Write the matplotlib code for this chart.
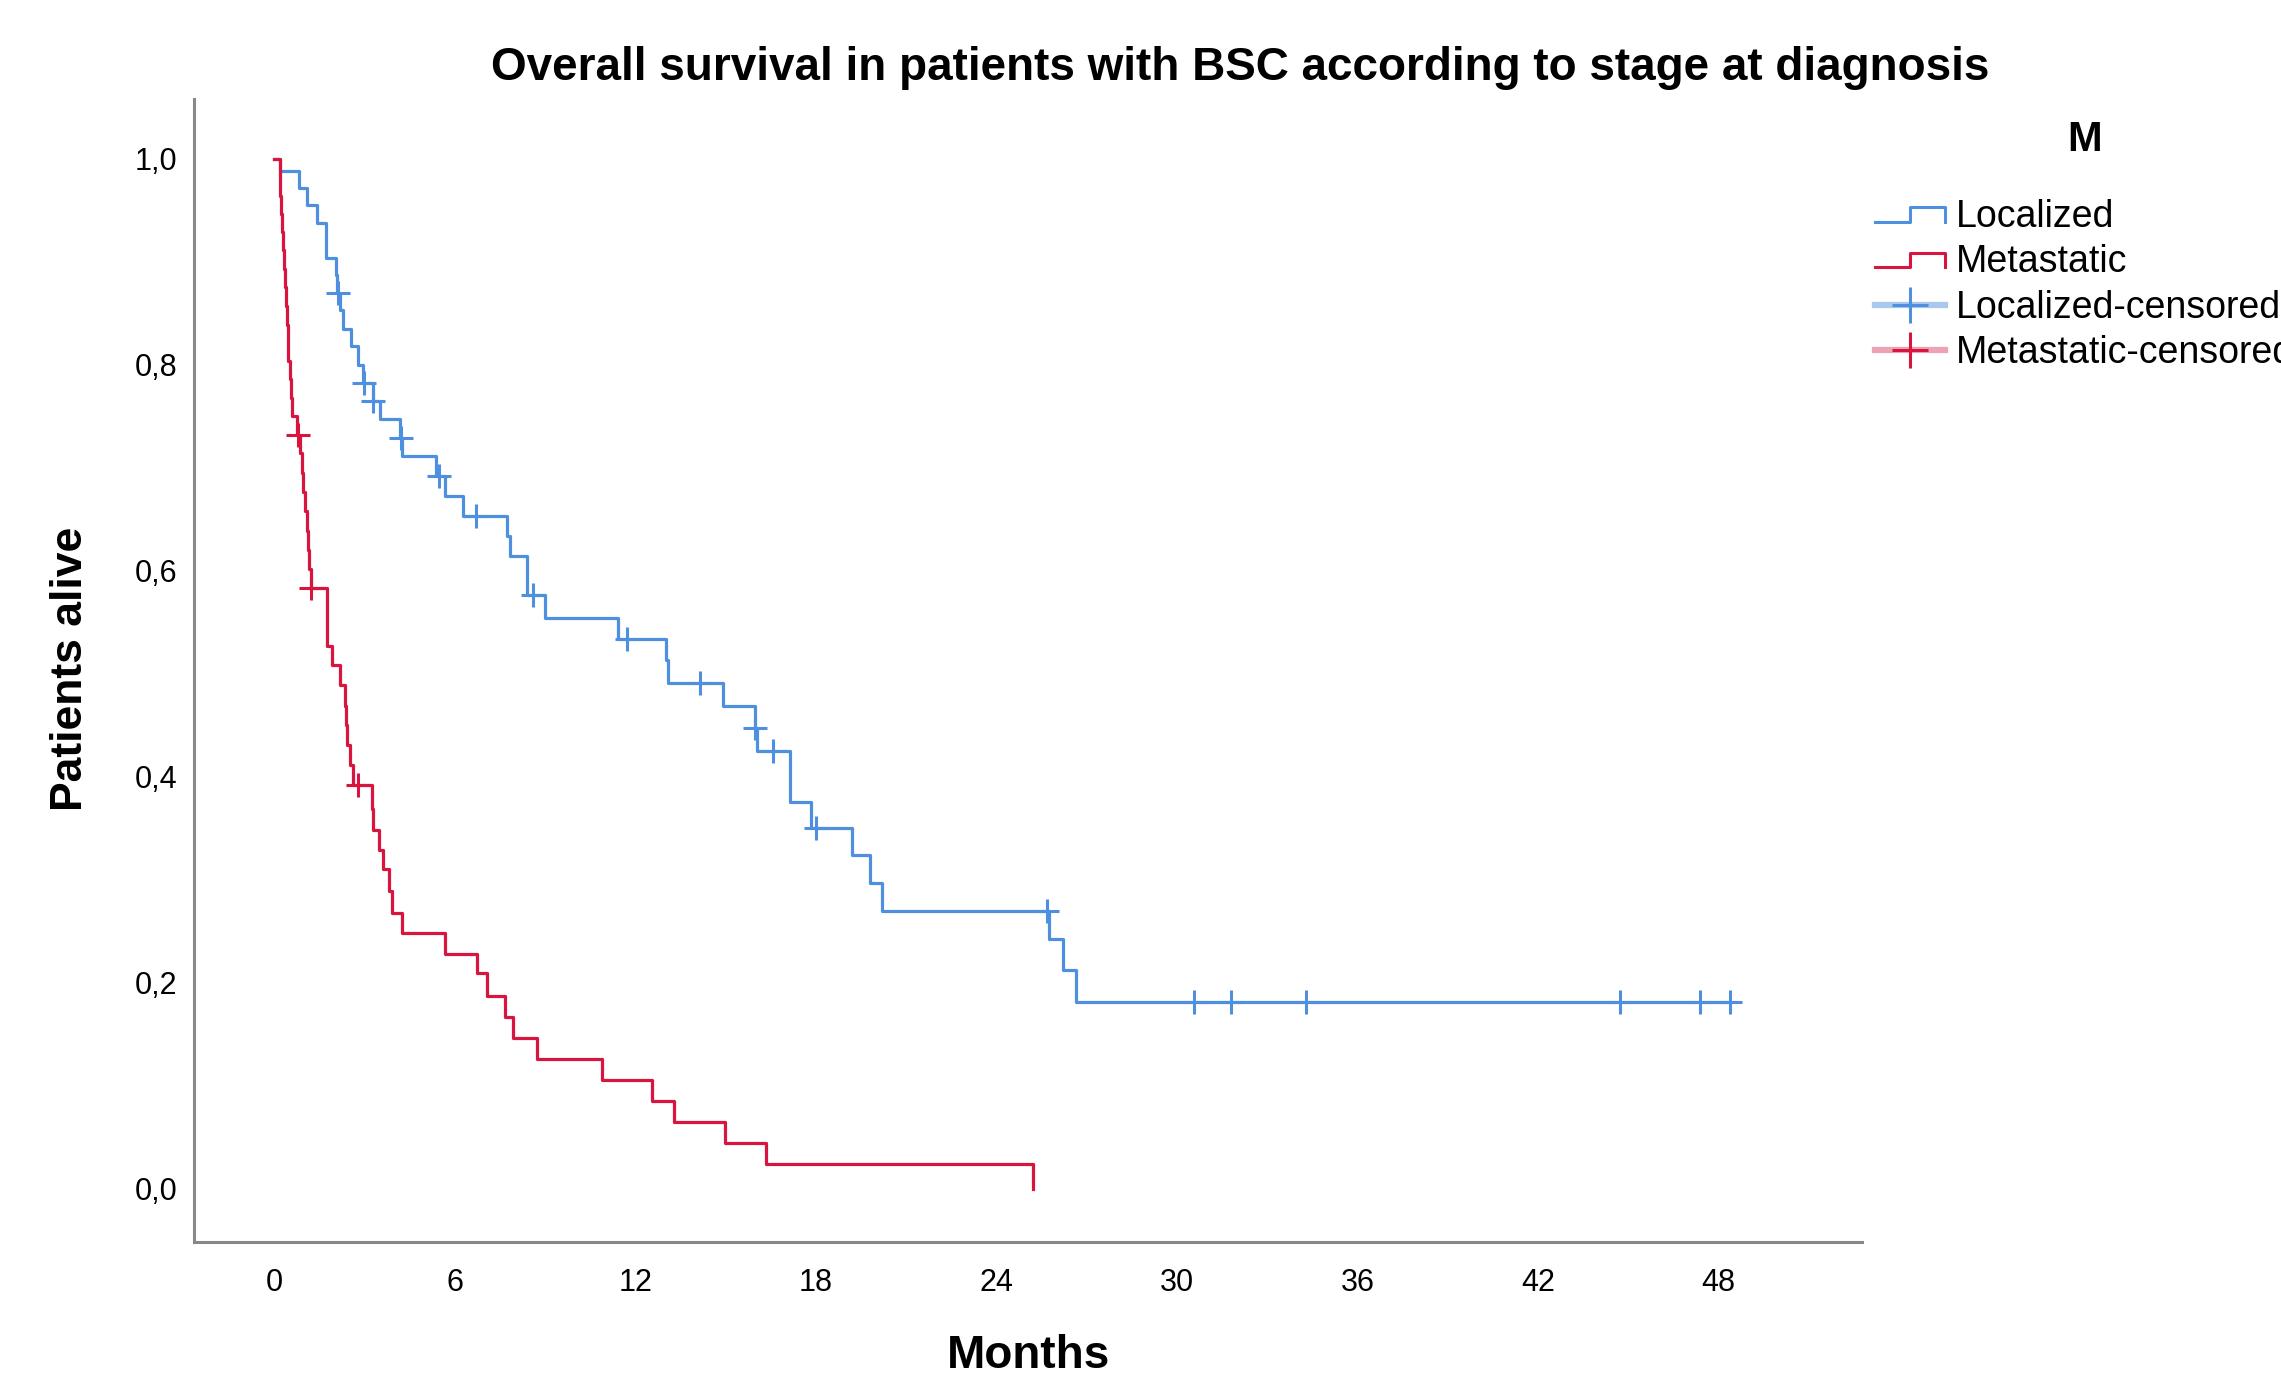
import numpy as np
import matplotlib
matplotlib.use('Agg')
import matplotlib.pyplot as plt
from matplotlib.lines import Line2D
from matplotlib.legend_handler import HandlerLine2D

# Kaplan-Meier steps (months, survival after the event)
loc_t = [0, 0.20, 0.84, 1.10, 1.41, 1.73, 1.73, 2.05, 2.08, 2.19, 2.30, 2.55, 2.80, 2.95, 3.28,
         3.52, 4.19, 4.26, 5.38, 5.66, 6.27, 7.73, 7.82, 8.39, 8.39, 9.00, 11.44, 13.01, 13.08,
         14.92, 15.97, 16.04, 17.13, 17.13, 17.83, 19.19, 19.80, 20.19, 25.73, 26.20, 26.63, 48.39]
loc_s = [1.0, 0.988, 0.972, 0.955, 0.938, 0.921, 0.904, 0.887, 0.870, 0.853, 0.835, 0.818, 0.800,
         0.782, 0.765, 0.747, 0.729, 0.711, 0.692, 0.673, 0.653, 0.634, 0.614, 0.595, 0.576, 0.554,
         0.534, 0.513, 0.491, 0.469, 0.447, 0.425, 0.400, 0.375, 0.350, 0.324, 0.297, 0.270, 0.242,
         0.212, 0.181, 0.181]
loc_cens_t = [2.12, 3.00, 3.30, 4.22, 5.49, 6.70, 8.59, 11.72, 14.14, 15.98, 16.58, 18.01, 25.67,
              30.56, 31.79, 34.27, 44.73, 47.37, 48.39]
loc_cens_s = [0.870, 0.782, 0.765, 0.729, 0.692, 0.653, 0.576, 0.534, 0.491, 0.447, 0.425, 0.350,
              0.270, 0.181, 0.181, 0.181, 0.181, 0.181, 0.181]

met_t = [0, 0.18, 0.20, 0.22, 0.25, 0.28, 0.33, 0.36, 0.40, 0.42, 0.45, 0.47, 0.52, 0.56, 0.60,
         0.75, 0.86, 0.92, 0.97, 1.03, 1.08, 1.14, 1.17, 1.21, 1.74, 1.75, 1.76, 1.92, 2.19, 2.36,
         2.40, 2.42, 2.52, 2.63, 3.25, 3.30, 3.47, 3.63, 3.80, 3.91, 4.24, 5.68, 6.73, 7.07, 7.66,
         7.95, 8.72, 10.88, 12.56, 13.30, 14.99, 16.35, 25.20]
met_s = [1.0, 0.982, 0.964, 0.946, 0.929, 0.911, 0.893, 0.875, 0.857, 0.839, 0.821, 0.804, 0.786,
         0.768, 0.750, 0.732, 0.714, 0.695, 0.676, 0.658, 0.639, 0.620, 0.602, 0.583, 0.564, 0.545,
         0.527, 0.508, 0.489, 0.469, 0.450, 0.431, 0.411, 0.392, 0.369, 0.348, 0.329, 0.310, 0.289,
         0.268, 0.248, 0.228, 0.209, 0.187, 0.167, 0.146, 0.126, 0.106, 0.085, 0.065, 0.044, 0.024, 0.0]
met_cens_t = [0.80, 1.22, 2.80]
met_cens_s = [0.732, 0.583, 0.392]

x_ticks = [0, 6, 12, 18, 24, 30, 36, 42, 48]
y_ticks = [0.0, 0.2, 0.4, 0.6, 0.8, 1.0]
y_ticklabels = ['0,0', '0,2', '0,4', '0,6', '0,8', '1,0']
group_names = ['Localized', 'Metastatic', 'Localized-censored', 'Metastatic-censored']

blue = '#4f8fe0'
blue_light = '#a9c8f0'
red = '#d7153f'
red_light = '#eea3b5'

plt.rcParams['font.family'] = ['Liberation Sans', 'DejaVu Sans']


class StepHandler(HandlerLine2D):
    # little step icon like the SPSS legend
    def create_artists(self, legend, orig_handle, xdescent, ydescent, width, height, fontsize, trans):
        x0 = -xdescent
        x1 = -xdescent + width
        xm = x0 + width * 0.5
        ylo = -ydescent + height * 0.2
        yhi = -ydescent + height * 0.75
        ln = Line2D([x0, xm, xm, x1, x1], [ylo, ylo, yhi, yhi, ylo],
                    color=orig_handle.get_color(), lw=orig_handle.get_linewidth())
        ln.set_transform(trans)
        return [ln]


fig = plt.figure(figsize=(22.81, 13.83), dpi=100, facecolor='white')
ax = fig.add_axes([0.0851, 0.1020, 0.7312, 0.8264])

ax.step(loc_t, loc_s, where='post', color=blue, lw=2.3)
ax.step(met_t, met_s, where='post', color=red, lw=2.3)
ax.plot(loc_cens_t, loc_cens_s, ls='none', marker='+', ms=17, mew=2.2, color=blue)
ax.plot(met_cens_t, met_cens_s, ls='none', marker='+', ms=17, mew=2.2, color=red)

ax.set_xlim(-2.66, 52.76)
ax.set_ylim(-0.0517, 1.058)
ax.set_xticks(x_ticks)
ax.set_xticklabels([str(v) for v in x_ticks])
ax.set_yticks(y_ticks)
ax.set_yticklabels(y_ticklabels)
ax.tick_params(axis='both', length=0, labelsize=22)
ax.tick_params(axis='x', pad=19)
ax.tick_params(axis='y', pad=12)

for s in ['top', 'right']:
    ax.spines[s].set_visible(False)
for s in ['left', 'bottom']:
    ax.spines[s].set_color('#888888')
    ax.spines[s].set_linewidth(2.2)

ax.set_xlabel('Months', fontsize=33, fontweight='bold')
ax.xaxis.set_label_coords(0.5, -0.1)
ax.xaxis.label.set_va('center')
ax.set_ylabel('Patients alive', fontsize=32, fontweight='bold')
ax.yaxis.set_label_coords(-0.0743, 0.501)
ax.yaxis.label.set_va('center')
fig.text(0.5436, 0.951, 'Overall survival in patients with BSC according to stage at diagnosis',
         ha='center', va='center', fontsize=33, fontweight='bold')

handles = [Line2D([], [], color=blue, lw=2.2),
           Line2D([], [], color=red, lw=2.2),
           Line2D([], [], color=blue_light, lw=4.5, marker='+', ms=26, mew=2.2, mec=blue),
           Line2D([], [], color=red_light, lw=4.5, marker='+', ms=26, mew=2.2, mec=red)]
leg = fig.legend(handles, group_names, loc='upper left', bbox_to_anchor=(0.8155, 0.924),
                 frameon=False, fontsize=27, title='M', handlelength=1.85, handletextpad=0.3,
                 labelspacing=0.25, borderaxespad=0,
                 handler_map={handles[0]: StepHandler(), handles[1]: StepHandler()})
leg.get_title().set_fontsize(30)
leg.get_title().set_fontweight('bold')
leg._legend_box.sep = 28

fig.savefig('out.png', dpi=100, facecolor='white')
